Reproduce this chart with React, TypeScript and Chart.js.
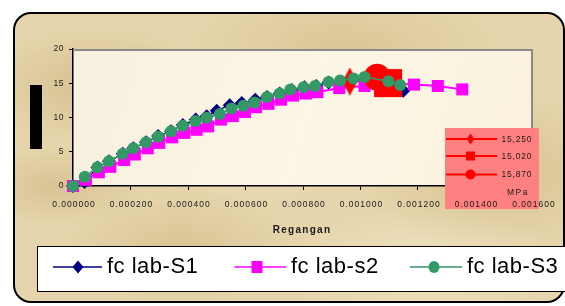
import React, { useEffect, useRef } from "react";
import { Chart, registerables } from "chart.js";

Chart.register(...registerables);

// ---- data ----
const s1Strain = [0, 0.00004, 0.000085, 0.000125, 0.000173, 0.00021, 0.000254, 0.000296, 0.000341, 0.000382, 0.000427, 0.000465, 0.0005, 0.000545, 0.000587, 0.000634, 0.000675, 0.000719, 0.000761, 0.000805, 0.000846, 0.000889, 0.000963, 0.001014, 0.001098, 0.001149];
const s1Stress = [0, 0.6, 2.7, 3.6, 4.7, 5.5, 6.4, 7.3, 8.0, 8.9, 9.7, 10.2, 11.0, 11.8, 12.1, 12.6, 13.0, 13.5, 14.0, 14.4, 14.6, 15.1, 15.25, 15.4, 14.9, 13.9];

const s2Strain = [0, 0.000045, 0.00009, 0.00013, 0.000178, 0.000215, 0.00026, 0.0003, 0.000345, 0.000387, 0.00043, 0.00047, 0.000515, 0.000556, 0.000598, 0.000637, 0.00068, 0.000724, 0.000766, 0.00081, 0.00085, 0.000926, 0.001014, 0.001096, 0.001186, 0.001269, 0.001354];
const s2Stress = [0, 0.9, 2.0, 2.8, 3.8, 4.6, 5.5, 6.3, 7.1, 7.75, 8.2, 8.7, 9.7, 10.2, 10.8, 11.5, 12.0, 12.6, 13.2, 13.5, 13.7, 14.3, 14.6, 15.02, 14.8, 14.6, 14.1];

const s3Strain = [0, 0.000041, 0.000085, 0.000125, 0.000173, 0.00021, 0.000254, 0.000296, 0.000341, 0.000382, 0.000427, 0.000465, 0.000511, 0.000551, 0.000593, 0.000632, 0.000675, 0.000719, 0.000756, 0.000802, 0.000842, 0.000889, 0.000929, 0.000976, 0.001014, 0.001097, 0.001138];
const s3Stress = [0, 1.35, 2.75, 3.6, 4.7, 5.5, 6.4, 7.2, 8.0, 8.8, 9.5, 9.95, 10.5, 11.3, 11.7, 12.2, 13.0, 13.5, 14.1, 14.4, 14.6, 15.2, 15.4, 15.7, 15.9, 15.3, 14.75];

const seriesNames = ["fc lab-S1", "fc lab-s2", "fc lab-S3"];
const peakLabels = ["15,250", "15,020", "15,870"];
const peakStrain = [0.000963, 0.001096, 0.001058];
const peakStress = [15.25, 15.02, 15.87];

const xTicks = [0, 0.0002, 0.0004, 0.0006, 0.0008, 0.001, 0.0012, 0.0014, 0.0016];
const yTicks = [0, 5, 10, 15, 20];
const xTitle = "Regangan";
const unitLabel = "MPa";

const NAVY = "#000080";
const PINK = "#FF00FF";
const GREEN = "#339966";
const RED = "#FF0000";
const FONT = "'Liberation Sans', Arial, sans-serif";

function pts(xs: number[], ys: number[]) {
  return xs.map((x, i) => ({ x, y: ys[i] }));
}

function tallDiamond(w: number, h: number, color: string) {
  const c = document.createElement("canvas");
  c.width = w;
  c.height = h;
  const g = c.getContext("2d")!;
  g.fillStyle = color;
  g.beginPath();
  g.moveTo(w / 2, 0);
  g.lineTo(w, h / 2);
  g.lineTo(w / 2, h);
  g.lineTo(0, h / 2);
  g.closePath();
  g.fill();
  return c;
}

function drawMarker(ctx: CanvasRenderingContext2D, kind: string, x: number, y: number, w: number, h: number, color: string) {
  ctx.save();
  ctx.fillStyle = color;
  ctx.beginPath();
  if (kind === "diamond") {
    ctx.moveTo(x, y - h / 2);
    ctx.lineTo(x + w / 2, y);
    ctx.lineTo(x, y + h / 2);
    ctx.lineTo(x - w / 2, y);
    ctx.closePath();
  } else if (kind === "square") {
    ctx.rect(x - w / 2, y - h / 2, w, h);
  } else {
    ctx.ellipse(x, y, w / 2, h / 2, 0, 0, Math.PI * 2);
  }
  ctx.fill();
  ctx.restore();
}

const decorPlugin = {
  id: "decor",
  beforeDraw(chart: any) {
    const { ctx, chartArea } = chart;
    ctx.save();
    const grd = ctx.createLinearGradient(chartArea.left, chartArea.top, chartArea.right, chartArea.bottom);
    grd.addColorStop(0, "#F7F0DE");
    grd.addColorStop(0.5, "#FCF6E6");
    grd.addColorStop(1, "#FAF2DD");
    ctx.fillStyle = grd;
    ctx.fillRect(chartArea.left, chartArea.top, chartArea.right - chartArea.left, chartArea.bottom - chartArea.top);
    ctx.restore();
  },
  afterDraw(chart: any) {
    const { ctx, chartArea } = chart;
    const xs = chart.scales.x;
    const ys = chart.scales.y;
    ctx.save();

    // gray top and right plot borders
    ctx.strokeStyle = "#8A8A8A";
    ctx.lineWidth = 2;
    ctx.beginPath();
    ctx.moveTo(chartArea.left, chartArea.top + 1);
    ctx.lineTo(chartArea.right - 1, chartArea.top + 1);
    ctx.lineTo(chartArea.right - 1, chartArea.bottom);
    ctx.stroke();

    // red inset legend
    ctx.fillStyle = "#FF8080";
    ctx.fillRect(445, 128, 94, 81);
    const kinds = ["diamond", "square", "circle"];
    const rowY = [139, 156, 174.5];
    const sizes = [[8, 11], [9, 9], [10, 10]];
    for (let i = 0; i < 3; i++) {
      ctx.strokeStyle = RED;
      ctx.lineWidth = 2;
      ctx.beginPath();
      ctx.moveTo(446, rowY[i]);
      ctx.lineTo(497, rowY[i]);
      ctx.stroke();
      drawMarker(ctx, kinds[i], 470.5, rowY[i], sizes[i][0], sizes[i][1], RED);
      ctx.fillStyle = "#1a1a1a";
      ctx.font = `8.5px ${FONT}`;
      (ctx as any).letterSpacing = "0.8px";
      ctx.textAlign = "left";
      ctx.textBaseline = "middle";
      ctx.fillText(peakLabels[i], 501.5, rowY[i] + 0.5);
    }
    ctx.textAlign = "left";
    (ctx as any).letterSpacing = "1.5px";
    ctx.fillText(unitLabel, 507, 192.5);

    // tick labels
    ctx.fillStyle = "#1a1a1a";
    ctx.font = `8.5px ${FONT}`;
    (ctx as any).letterSpacing = "1px";
    ctx.textBaseline = "middle";
    ctx.textAlign = "center";
    xTicks.forEach((v) => {
      ctx.fillText(v.toFixed(6), xs.getPixelForValue(v) + 1, 205);
    });
    ctx.textAlign = "right";
    (ctx as any).letterSpacing = "0.5px";
    yTicks.forEach((v) => {
      ctx.fillText(String(v), 64, ys.getPixelForValue(v));
    });

    // axis title
    ctx.font = `bold 10px ${FONT}`;
    (ctx as any).letterSpacing = "1.3px";
    ctx.textAlign = "center";
    ctx.fillText(xTitle, 302, 230.5);

    // black bar (y title area)
    ctx.fillStyle = "#000";
    ctx.fillRect(30, 85, 12, 64);

    // main legend
    (ctx as any).letterSpacing = "0px";
    ctx.fillStyle = "#FFFFFF";
    ctx.fillRect(37, 246, 540, 46);
    ctx.strokeStyle = "#000";
    ctx.lineWidth = 1;
    ctx.strokeRect(37.5, 246.5, 540, 45);
    const lx = [[53, 102, 78, 107], [234.5, 286, 257, 291], [410, 462, 434, 467]];
    const colors = [NAVY, PINK, GREEN];
    const lkinds = ["diamond", "square", "circle"];
    const lsz = [[11, 13], [11, 12], [11, 12]];
    for (let i = 0; i < 3; i++) {
      ctx.strokeStyle = colors[i];
      ctx.lineWidth = 1.5;
      ctx.beginPath();
      ctx.moveTo(lx[i][0], 267);
      ctx.lineTo(lx[i][1], 267);
      ctx.stroke();
      drawMarker(ctx, lkinds[i], lx[i][2], 267, lsz[i][0], lsz[i][1], colors[i]);
      ctx.fillStyle = "#000";
      ctx.font = `22px ${FONT}`;
      (ctx as any).letterSpacing = "0.5px";
      ctx.textAlign = "left";
      ctx.textBaseline = "middle";
      ctx.fillText(seriesNames[i], lx[i][3], 267);
    }
    ctx.restore();
  },
};

export default function App() {
  const ref = useRef<HTMLCanvasElement | null>(null);
  useEffect(() => {
    document.body.style.margin = "0";
    const canvas = ref.current!;
    const redDiamond = tallDiamond(15, 28, RED);
    const chart = new Chart(canvas, {
      type: "line",
      data: {
        datasets: [
          {
            label: seriesNames[0],
            data: pts(s1Strain, s1Stress),
            borderColor: NAVY,
            backgroundColor: NAVY,
            borderWidth: 1.5,
            pointStyle: "rectRot",
            pointRadius: 7,
            pointBorderWidth: 0,
            clip: false,
            order: 3,
          },
          {
            label: seriesNames[1],
            data: pts(s2Strain, s2Stress),
            borderColor: PINK,
            backgroundColor: PINK,
            borderWidth: 2,
            pointStyle: "rect",
            pointRadius: 8.5,
            pointBorderWidth: 0,
            clip: false,
            order: 2,
          },
          {
            label: peakLabels[0],
            data: [{ x: peakStrain[0], y: peakStress[0] }],
            borderColor: RED,
            backgroundColor: RED,
            pointStyle: redDiamond as any,
            pointRadius: 14,
            clip: false,
            order: 1,
          },
          {
            label: peakLabels[1],
            data: [{ x: peakStrain[1], y: peakStress[1] }],
            borderColor: RED,
            backgroundColor: RED,
            pointStyle: "rect",
            pointRadius: 19.8,
            pointBorderWidth: 0,
            clip: false,
            order: 1,
          },
          {
            label: peakLabels[2],
            data: [{ x: peakStrain[2], y: peakStress[2] }],
            borderColor: RED,
            backgroundColor: RED,
            pointStyle: "circle",
            pointRadius: 13.5,
            pointBorderWidth: 0,
            clip: false,
            order: 1,
          },
          {
            label: seriesNames[2],
            data: pts(s3Strain, s3Stress),
            borderColor: GREEN,
            backgroundColor: GREEN,
            borderWidth: 1.5,
            pointStyle: "circle",
            pointRadius: 6,
            pointBorderWidth: 0,
            clip: false,
            order: 0,
          },
        ],
      },
      options: {
        animation: false,
        responsive: false,
        devicePixelRatio: 1,
        parsing: false as any,
        layout: { padding: { left: 0, top: 49, right: 32, bottom: 0 } },
        plugins: { legend: { display: false }, tooltip: { enabled: false }, title: { display: false } },
        scales: {
          x: {
            type: "linear",
            min: 0,
            max: 0.0016,
            afterBuildTicks: (s: any) => {
              s.ticks = xTicks.map((v) => ({ value: v }));
            },
            afterFit: (s: any) => {
              s.height = 120;
            },
            ticks: { display: false },
            grid: { drawOnChartArea: false, drawTicks: true, tickLength: 4, color: "#000", lineWidth: 1 },
            border: { display: true, color: "#000", width: 1.5 },
          },
          y: {
            type: "linear",
            min: 0,
            max: 20,
            afterBuildTicks: (s: any) => {
              s.ticks = yTicks.map((v) => ({ value: v }));
            },
            afterFit: (s: any) => {
              s.width = 73;
            },
            ticks: { display: false },
            grid: { drawOnChartArea: false, drawTicks: true, tickLength: 4, color: "#000", lineWidth: 1 },
            border: { display: true, color: "#000", width: 1.5 },
          },
        },
      } as any,
      plugins: [decorPlugin],
    });
    return () => chart.destroy();
  }, []);

  const parchment =
    "radial-gradient(ellipse 120px 60px at 15% 25%, rgba(190,160,104,0.40), transparent)," +
    "radial-gradient(ellipse 160px 70px at 60% 12%, rgba(198,170,112,0.35), transparent)," +
    "radial-gradient(ellipse 140px 80px at 88% 55%, rgba(195,166,108,0.40), transparent)," +
    "radial-gradient(ellipse 120px 60px at 30% 82%, rgba(195,165,106,0.35), transparent)," +
    "radial-gradient(ellipse 90px 40px at 8% 60%, rgba(190,160,104,0.35), transparent)," +
    "radial-gradient(ellipse 150px 60px at 75% 88%, rgba(255,248,230,0.40), transparent)," +
    "radial-gradient(ellipse 100px 60px at 45% 45%, rgba(255,248,230,0.35), transparent)," +
    "#E6D5AC";

  return (
    <div style={{ position: "absolute", left: 0, top: 0, width: 565, height: 306, background: "#fff", overflow: "hidden" }}>
      <div
        style={{
          position: "absolute",
          left: 13,
          top: 12,
          width: 548,
          height: 287,
          border: "2px solid #000",
          borderRadius: 18,
          background: parchment,
        }}
      />
      <canvas ref={ref} width={565} height={306} style={{ position: "absolute", left: 0, top: 0, width: 565, height: 306 }} />
    </div>
  );
}
